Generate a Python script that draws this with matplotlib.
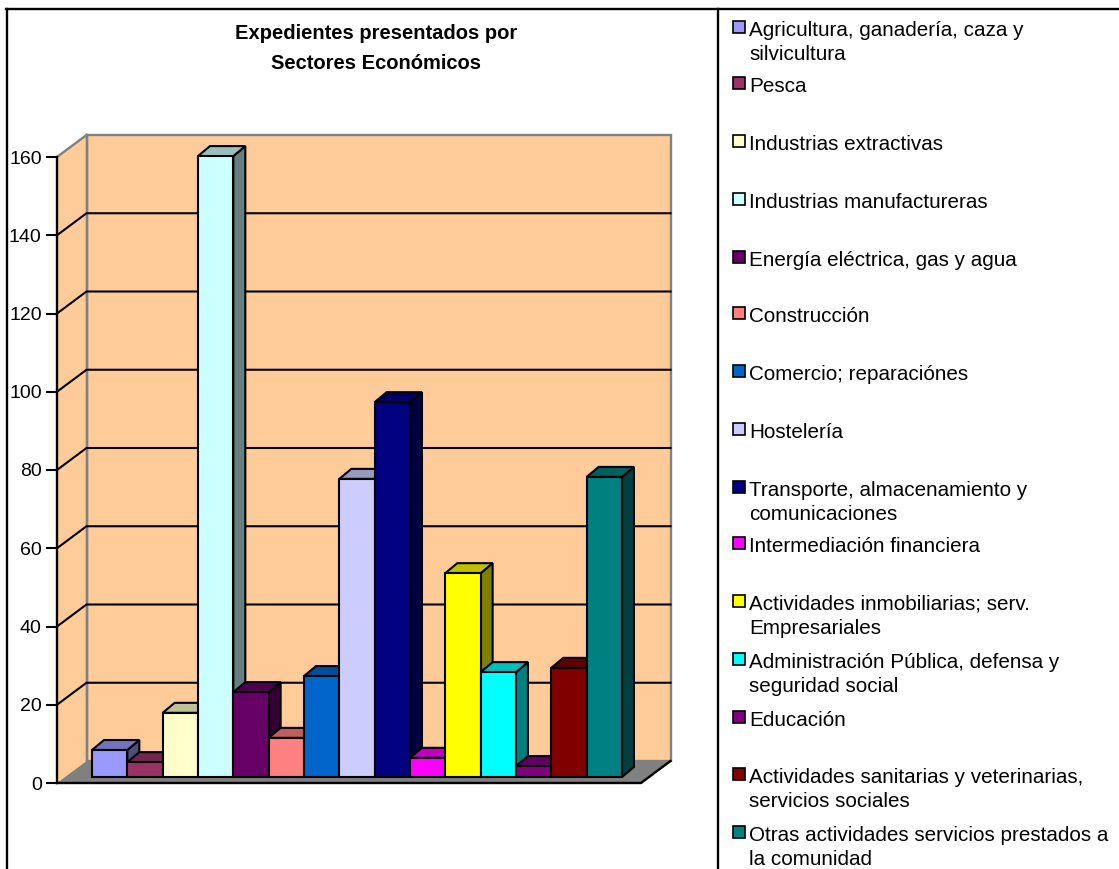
import matplotlib
matplotlib.use("Agg")
import matplotlib.pyplot as plt
from matplotlib.lines import Line2D
from matplotlib.patches import Polygon, Rectangle

W, H = 1119, 869

title = "Expedientes presentados por\nSectores Económicos"
sectores = [
    "Agricultura, ganadería, caza y\nsilvicultura",
    "Pesca",
    "Industrias extractivas",
    "Industrias manufactureras",
    "Energía eléctrica, gas y agua",
    "Construcción",
    "Comercio; reparaciónes",
    "Hostelería",
    "Transporte, almacenamiento y\ncomunicaciones",
    "Intermediación financiera",
    "Actividades inmobiliarias; serv.\nEmpresariales",
    "Administración Pública, defensa y\nseguridad social",
    "Educación",
    "Actividades sanitarias y veterinarias,\nservicios sociales",
    "Otras actividades servicios prestados a\nla comunidad",
]
expedientes = [6.9, 3.8, 16.4, 158.7, 21.7, 10, 25.8, 76.2, 95.8, 4.9, 52.1, 26.8, 2.8, 27.9, 76.7]
colores = ["#9999FF", "#993366", "#FFFFCC", "#CCFFFF", "#660066", "#FF8080", "#0066CC", "#CCCCFF",
           "#000080", "#FF00FF", "#FFFF00", "#00FFFF", "#800080", "#800000", "#008080"]
ticks = [0, 20, 40, 60, 80, 100, 120, 140, 160]
legend_y = [29, 85, 143, 201, 259, 315, 373, 431, 489, 545, 603, 661, 719, 776, 834]

plt.rcParams["font.family"] = ["Liberation Sans", "DejaVu Sans"]


def shade(c, f):
    rgb = matplotlib.colors.to_rgb(c)
    return tuple(v * f for v in rgb)


fig = plt.figure(figsize=(W / 100, H / 100), dpi=100)
fig.patch.set_facecolor("white")

# front plane of the 3d box, everything else is offset from it
ax = fig.add_axes([57 / W, 1 - 783 / H, (641 - 57) / W, (783 - 157) / H])
ax.patch.set_visible(False)
x_unit = 35.33   # px per category
y_unit = 626 / 160   # px per expediente
x0, x1 = (57 - 92) / x_unit, (641 - 92) / x_unit
wall_dx, wall_dy = 29.5 / x_unit, 22 / y_unit
bar_dx, bar_dy = 12 / x_unit, 10 / y_unit
lift = 6 / y_unit
edge = 1.5

wall_c = "#FFCC99"
ymax = ticks[-1]
ax.add_patch(Polygon([(x0, 0), (x0, ymax), (x0 + wall_dx, ymax + wall_dy), (x0 + wall_dx, wall_dy)],
                     fc=wall_c, ec="none", zorder=0.2, clip_on=False))
ax.add_patch(Rectangle((x0 + wall_dx, wall_dy), x1 - x0, ymax, fc=wall_c, ec="#808080", lw=edge + 0.2,
                       zorder=0.2, clip_on=False))
ax.plot([x0 + wall_dx, x0 + wall_dx], [wall_dy, ymax + wall_dy], color="#808080", lw=edge + 0.2,
        zorder=0.3, clip_on=False)
ax.plot([x0, x0 + wall_dx], [ymax, ymax + wall_dy], color="#808080", lw=edge + 0.2, zorder=0.3, clip_on=False)
for t in ticks[1:-1]:
    ax.plot([x0, x0 + wall_dx, x1 + wall_dx], [t, t + wall_dy, t + wall_dy], color="black", lw=edge,
            zorder=0.4, clip_on=False)

# floor
ax.add_patch(Polygon([(x0, 0), (x1, 0), (x1 + wall_dx, wall_dy), (x0 + wall_dx, wall_dy)],
                     fc="#808080", ec="none", zorder=0.5, clip_on=False))
ax.plot([x0, x1, x1 + wall_dx], [0, 0, wall_dy], color="black", lw=edge + 0.2, zorder=0.6, clip_on=False)

# bars, left to right so each one hides the side of the previous
for i, (v, c) in enumerate(zip(expedientes, colores)):
    top = v + lift
    ax.add_patch(Polygon([(i + 1, lift), (i + 1 + bar_dx, lift + bar_dy),
                          (i + 1 + bar_dx, top + bar_dy), (i + 1, top)],
                         fc=shade(c, 0.5), ec="black", lw=edge, joinstyle="miter", clip_on=False))
    ax.add_patch(Polygon([(i, top), (i + bar_dx, top + bar_dy), (i + 1 + bar_dx, top + bar_dy), (i + 1, top)],
                         fc=shade(c, 0.75), ec="black", lw=edge, joinstyle="miter", clip_on=False))
    ax.bar(i, v, width=1, bottom=lift, align="edge", color=c, edgecolor="black", linewidth=edge, clip_on=False)

ax.set_xlim(x0, x1)
ax.set_ylim(0, ymax)
ax.set_xticks([])
ax.set_yticks(ticks)
ax.tick_params(axis="y", length=8, width=edge, pad=3, labelsize=14, color="black")
for s in ["top", "right", "bottom"]:
    ax.spines[s].set_visible(False)
ax.spines["left"].set_linewidth(edge + 0.2)

# outer frame and separator
for xs, ys in [((6.5, 6.5), (9, H)), ((6, W), (9, 9)), ((718, 718), (9, H))]:
    fig.add_artist(Line2D([x / W for x in xs], [1 - y / H for y in ys], color="black", lw=1.7))

fig.text(376 / W, 1 - 48.5 / H, title, ha="center", va="center", fontsize=14.5, fontweight="bold", linespacing=1.7)

# hand placed legend, the original spacing is uneven
for label, c, y in zip(sectores, colores, legend_y):
    fig.add_artist(Rectangle((733 / W, 1 - (y + 4) / H), 12 / W, 12 / H, fc=c, ec="black", lw=1.2,
                             transform=fig.transFigure))
    fig.text(749 / W, 1 - (y - 8) / H, label, ha="left", va="top", fontsize=14.9, linespacing=1.33)

fig.savefig("out.png", dpi=100)
